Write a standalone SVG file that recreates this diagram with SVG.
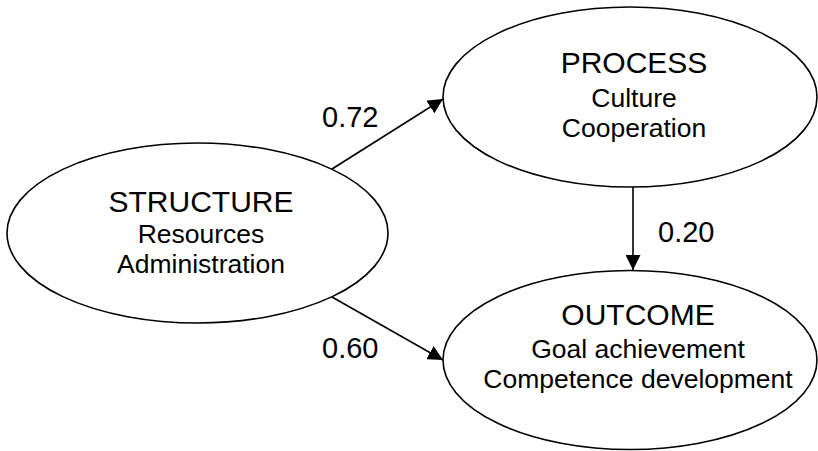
<svg xmlns="http://www.w3.org/2000/svg" width="818" height="451" viewBox="0 0 818 451">
<style>
.node{fill:#fff;stroke:#000;stroke-width:1.6}
.t{font-family:"Liberation Sans",Arial,sans-serif;fill:#000;text-anchor:middle}
.h{font-size:30px}
.s{font-size:26.5px}
.lbl{font-family:"Liberation Sans",Arial,sans-serif;font-size:29px;fill:#000}
.edge{stroke:#000;stroke-width:1.6;fill:none;marker-end:url(#arr)}
</style>
<defs>
<marker id="arr" markerUnits="userSpaceOnUse" markerWidth="15" markerHeight="15" refX="15" refY="7.5" orient="auto">
<path d="M0,0 L15,7.5 L0,15 z" fill="#000"/>
</marker>
</defs>
<g id="connectors">
<line class="edge" x1="332" y1="169" x2="443" y2="99"/>
<line class="edge" x1="332" y1="297" x2="443" y2="360"/>
<line class="edge" x1="633" y1="186" x2="633" y2="270"/>
<text class="lbl" x="322" y="127">0.72</text>
<text class="lbl" x="322" y="358">0.60</text>
<text class="lbl" x="658" y="242">0.20</text>
</g>
<g id="structure">
<ellipse class="node" cx="197.5" cy="233" rx="190.5" ry="90"/>
<text class="t h" x="201" y="212">STRUCTURE</text>
<text class="t s" x="201" y="243">Resources</text>
<text class="t s" x="201" y="273">Administration</text>
</g>
<g id="process">
<ellipse class="node" cx="630" cy="97" rx="187" ry="90"/>
<text class="t h" x="634" y="73">PROCESS</text>
<text class="t s" x="634" y="107">Culture</text>
<text class="t s" x="634" y="137">Cooperation</text>
</g>
<g id="outcome">
<ellipse class="node" cx="630" cy="360" rx="187" ry="89.5"/>
<text class="t h" x="638" y="325">OUTCOME</text>
<text class="t s" x="638" y="358">Goal achievement</text>
<text class="t s" x="638" y="388">Competence development</text>
</g>
</svg>
